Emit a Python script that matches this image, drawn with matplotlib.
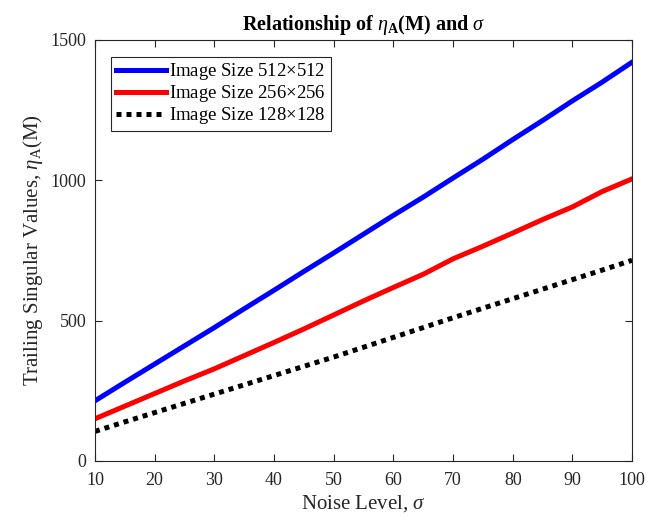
import matplotlib
matplotlib.use("Agg")
import matplotlib.pyplot as plt

plt.rcParams['font.family'] = ['Liberation Serif', 'DejaVu Serif']
plt.rcParams['mathtext.fontset'] = 'custom'
plt.rcParams['mathtext.rm'] = 'Liberation Serif'
plt.rcParams['mathtext.it'] = 'Liberation Serif:italic'
plt.rcParams['mathtext.bf'] = 'Liberation Serif:bold'

noise = [10, 15, 20, 25, 30, 35, 40, 45, 50, 55, 60, 65, 70, 75, 80, 85, 90, 95, 100]
size512 = [214, 280, 345, 410, 475, 542, 608, 675, 741, 808, 875, 940, 1008, 1075, 1145, 1213, 1283, 1350, 1421]
size256 = [150, 195, 240, 285, 328, 375, 422, 470, 520, 570, 618, 665, 720, 765, 812, 860, 905, 960, 1005]
size128 = [105, 139, 172, 205, 238, 271, 304, 337, 370, 405, 440, 475, 510, 544, 578, 612, 646, 680, 715]

fig = plt.figure(figsize=(6.64, 5.19), dpi=100)
ax = fig.add_axes([0.143, 0.112, 0.809, 0.811])

ax.plot(noise, size512, color='#0000ff', lw=3.6, label=r'Image Size 512$\times$512')
ax.plot(noise, size256, color='#ff0000', lw=3.6, label=r'Image Size 256$\times$256')
ax.plot(noise, size128, color='black', lw=3.6, dashes=(1, 1), dash_capstyle='butt',
        label=r'Image Size 128$\times$128')

ax.set_xlim(10, 100)
ax.set_ylim(0, 1500)
ax.set_xticks(range(10, 101, 10))
ax.set_yticks([0, 500, 1000, 1500])
ax.tick_params(direction='in', top=True, right=True, labelsize=13, colors='#262626',
               length=5, width=0.8)
ax.tick_params(axis='x', pad=8)
ax.tick_params(axis='y', pad=6)
for s in ax.spines.values():
    s.set_color('#262626')
    s.set_linewidth(0.8)

ax.set_xlabel(r'Noise Level, $\sigma$', fontsize=15, color='#262626', labelpad=3)
ax.set_ylabel(r'Trailing Singular Values, $\eta_{\mathrm{A}}$(M)', fontsize=15, color='#262626')
ax.set_title(r'Relationship of $\eta_{\mathbf{A}}$(M) and $\sigma$', fontsize=14.5,
             fontweight='bold', pad=7)

leg = ax.legend(loc='upper left', bbox_to_anchor=(0.03, 0.96), borderaxespad=0,
                fontsize=13.5, fancybox=False, edgecolor='#262626',
                handlelength=2.7, handletextpad=0.15, borderpad=0.25, labelspacing=0.05,
                framealpha=1)
leg.get_frame().set_linewidth(0.8)

fig.savefig('out.png', dpi=100)
